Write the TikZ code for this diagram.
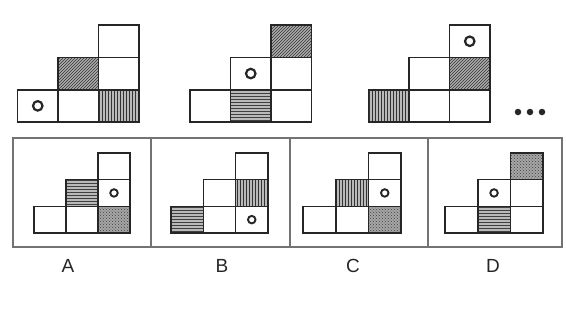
\documentclass[tikz,border=0pt]{standalone}
\usepackage{fontspec}
\setmainfont{Liberation Sans}
\usetikzlibrary{patterns}
\newcommand\mycell[8]{\node[cell, minimum width=#4pt, minimum height=#5pt, #8] (#1) at ({#2+(#6+0.5)*#4},{#3-(#7+0.5)*#5}) {};}
\tikzset{
  cell/.style={draw=black!85, line width=1.6pt, inner sep=0pt, outer sep=0pt, rectangle},
  wf/.style={fill=white},
  diagf/.style={preaction={fill=gray!65}, pattern=north east lines, pattern color=black!80},
  vertf/.style={preaction={fill=gray!55}, pattern=vertical lines, pattern color=black!80},
  horf/.style={preaction={fill=gray!55}, pattern=horizontal lines, pattern color=black!75},
  dotf/.style={preaction={fill=gray!70}, pattern=crosshatch dots, pattern color=black!75},
  bigring/.style={circle, draw=black!85, line width=2.2pt, minimum size=9.5pt, inner sep=0pt},
  smallring/.style={circle, draw=black!85, line width=1.9pt, minimum size=7.5pt, inner sep=0pt},
  panel/.style={draw=black!55, line width=2pt, rectangle, inner sep=0pt},
  lab/.style={font=\fontsize{19}{22}\selectfont, inner sep=0pt, text=black!85},
  ddot/.style={circle, fill=black!85, minimum size=6.5pt, inner sep=0pt}
}
\begin{document}
\begin{tikzpicture}[x=1pt,y=-1pt]
\useasboundingbox (0,0) rectangle (566,325);
% panels
\node[panel, minimum width=138pt, minimum height=109pt] (pA) at (82,192.5) {};
\node[panel, minimum width=139pt, minimum height=109pt] (pB) at (220.5,192.5) {};
\node[panel, minimum width=138pt, minimum height=109pt] (pC) at (359,192.5) {};
\node[panel, minimum width=134pt, minimum height=109pt] (pD) at (495,192.5) {};
% figure 1
\mycell{a00}{17.5}{122}{40.5}{32.3}{0}{0}{wf}
\mycell{a10}{17.5}{122}{40.5}{32.3}{1}{0}{wf}
\mycell{a20}{17.5}{122}{40.5}{32.3}{2}{0}{vertf}
\mycell{a11}{17.5}{122}{40.5}{32.3}{1}{1}{diagf}
\mycell{a21}{17.5}{122}{40.5}{32.3}{2}{1}{wf}
\mycell{a22}{17.5}{122}{40.5}{32.3}{2}{2}{wf}
\node[bigring] (ra) at (a00) {};
% figure 2
\mycell{b00}{190}{122}{40.5}{32.3}{0}{0}{wf}
\mycell{b10}{190}{122}{40.5}{32.3}{1}{0}{horf}
\mycell{b20}{190}{122}{40.5}{32.3}{2}{0}{wf}
\mycell{b11}{190}{122}{40.5}{32.3}{1}{1}{wf}
\mycell{b21}{190}{122}{40.5}{32.3}{2}{1}{wf}
\mycell{b22}{190}{122}{40.5}{32.3}{2}{2}{diagf}
\node[bigring] (rb) at (b11) {};
% figure 3
\mycell{c00}{368.5}{122}{40.5}{32.3}{0}{0}{vertf}
\mycell{c10}{368.5}{122}{40.5}{32.3}{1}{0}{wf}
\mycell{c20}{368.5}{122}{40.5}{32.3}{2}{0}{wf}
\mycell{c11}{368.5}{122}{40.5}{32.3}{1}{1}{wf}
\mycell{c21}{368.5}{122}{40.5}{32.3}{2}{1}{diagf}
\mycell{c22}{368.5}{122}{40.5}{32.3}{2}{2}{wf}
\node[bigring] (rc) at (c22) {};
% dots
\node[ddot] (d1) at (518,112) {};
\node[ddot] (d2) at (530,112) {};
\node[ddot] (d3) at (542,112) {};
% option A
\mycell{A00}{34}{233}{32}{26.7}{0}{0}{wf}
\mycell{A10}{34}{233}{32}{26.7}{1}{0}{wf}
\mycell{A20}{34}{233}{32}{26.7}{2}{0}{dotf}
\mycell{A11}{34}{233}{32}{26.7}{1}{1}{horf}
\mycell{A21}{34}{233}{32}{26.7}{2}{1}{wf}
\mycell{A22}{34}{233}{32}{26.7}{2}{2}{wf}
\node[smallring] (rA) at (A21) {};
% option B
\mycell{B00}{171}{233}{32.3}{26.7}{0}{0}{horf}
\mycell{B10}{171}{233}{32.3}{26.7}{1}{0}{wf}
\mycell{B20}{171}{233}{32.3}{26.7}{2}{0}{wf}
\mycell{B11}{171}{233}{32.3}{26.7}{1}{1}{wf}
\mycell{B21}{171}{233}{32.3}{26.7}{2}{1}{vertf}
\mycell{B22}{171}{233}{32.3}{26.7}{2}{2}{wf}
\node[smallring] (rB) at (B20) {};
% option C
\mycell{C00}{303}{233}{32.7}{26.7}{0}{0}{wf}
\mycell{C10}{303}{233}{32.7}{26.7}{1}{0}{wf}
\mycell{C20}{303}{233}{32.7}{26.7}{2}{0}{dotf}
\mycell{C11}{303}{233}{32.7}{26.7}{1}{1}{vertf}
\mycell{C21}{303}{233}{32.7}{26.7}{2}{1}{wf}
\mycell{C22}{303}{233}{32.7}{26.7}{2}{2}{wf}
\node[smallring] (rC) at (C21) {};
% option D
\mycell{D00}{445}{233}{32.7}{26.7}{0}{0}{wf}
\mycell{D10}{445}{233}{32.7}{26.7}{1}{0}{horf}
\mycell{D20}{445}{233}{32.7}{26.7}{2}{0}{wf}
\mycell{D11}{445}{233}{32.7}{26.7}{1}{1}{wf}
\mycell{D21}{445}{233}{32.7}{26.7}{2}{1}{wf}
\mycell{D22}{445}{233}{32.7}{26.7}{2}{2}{dotf}
\node[smallring] (rD) at (D11) {};
% labels
\node[lab] (lA) at (68,265.5) {A};
\node[lab] (lB) at (222,265.5) {B};
\node[lab] (lC) at (353,265.5) {C};
\node[lab] (lD) at (493,265.5) {D};
\end{tikzpicture}
\end{document}
